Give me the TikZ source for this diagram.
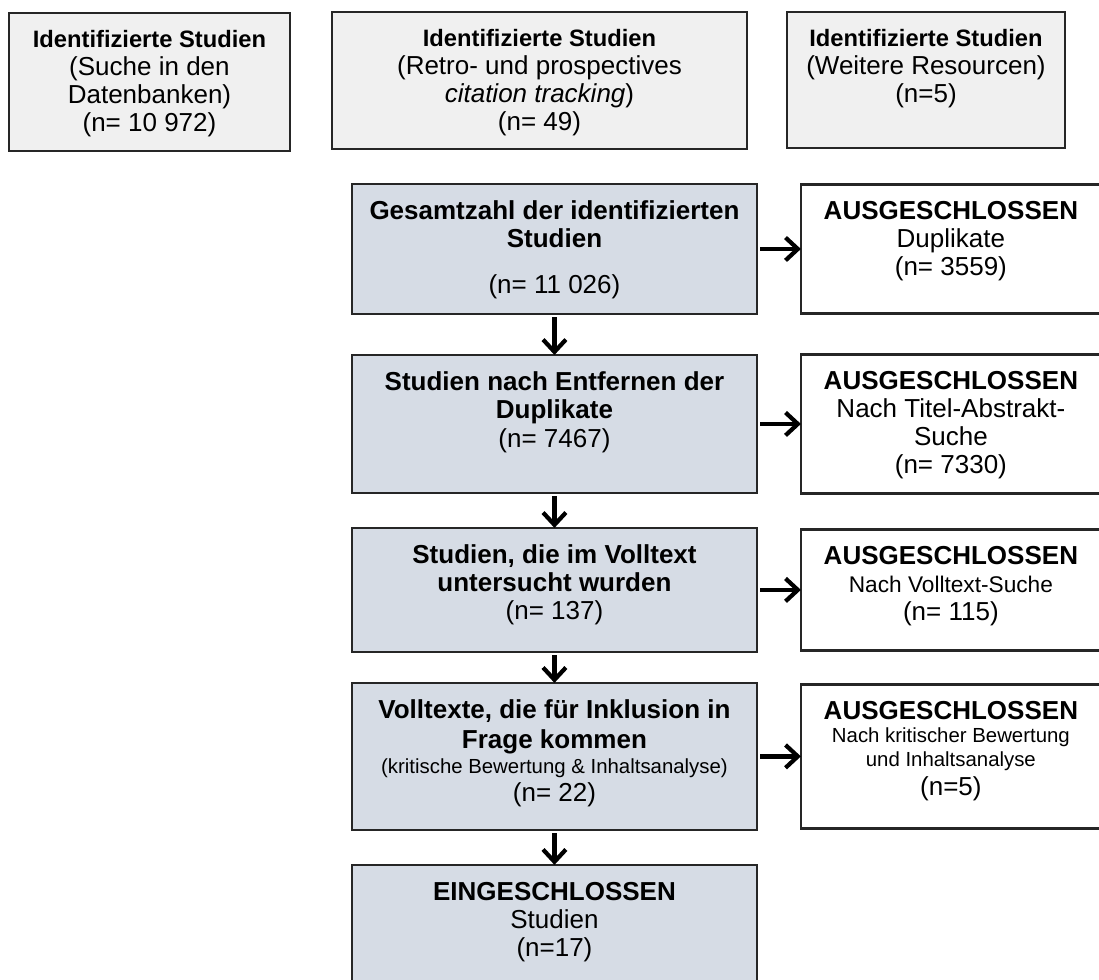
\documentclass[tikz,border=0pt]{standalone}
\usepackage{fontspec}
\setmainfont{Liberation Sans}
\usepackage{tikz}
\usetikzlibrary{positioning, arrows.meta}

\definecolor{topgray}{HTML}{F0F0F0}
\definecolor{mainblue}{HTML}{D6DCE5}

% text set at the top of a box of fixed size: {width cm}{height cm}{text}
\newcommand{\boxtext}[3]{\parbox[c][#2cm][t]{#1cm}{\centering\vspace*{0.34cm}#3\par}}
\newcommand{\tophead}[1]{{\fontsize{13.5}{16}\selectfont\bfseries #1}}
\newcommand{\smalltext}[1]{{\fontsize{11.6}{13}\selectfont #1}}

\begin{document}
\begin{tikzpicture}[x=0.02cm,y=-0.02cm,
  box/.style={draw=black!85,line width=1.4pt,inner sep=0pt,outer sep=0pt,font=\fontsize{14.8}{16}\selectfont},
  topbox/.style={box,fill=topgray,anchor=north west},
  mainbox/.style={box,fill=mainblue},
  outbox/.style={box,fill=white},
  flow/.style={-{Straight Barb[length=7pt,width=13pt]},line width=2.4pt,shorten <=2pt}]
\path[use as bounding box,clip] (0,0) rectangle (1099,980);

% sources
\node[topbox] (db) at (9,13) {\boxtext{5.62}{2.76}{\tophead{Identifizierte Studien}\\(Suche in den\\Datenbanken)\\(n= 10 972)}};
\node[topbox] (cite) at (332,12) {\boxtext{8.3}{2.74}{\tophead{Identifizierte Studien}\\(Retro- und prospectives\\\textit{citation tracking})\\(n= 49)}};
\node[topbox] (other) at (787,12) {\boxtext{5.56}{2.72}{\tophead{Identifizierte Studien}\\(Weitere Resourcen)\\(n=5)}\hspace{0.8cm}};

% main column
\node[mainbox,anchor=north west] (total) at (352,184) {\boxtext{8.1}{2.6}{\textbf{Gesamtzahl der identifizierten\\Studien}\\[10pt](n= 11 026)}};
\node[mainbox,below=0.82cm of total] (dedup) {\boxtext{8.1}{2.76}{\textbf{Studien nach Entfernen der\\Duplikate}\\(n= 7467)}};
\node[mainbox,below=0.7cm of dedup] (fulltext) {\boxtext{8.1}{2.48}{\textbf{Studien, die im Volltext\\untersucht wurden}\\(n= 137)}};
\node[mainbox,below=0.62cm of fulltext] (eligible) {\boxtext{8.1}{2.94}{\textbf{Volltexte, die für Inklusion in\\[1pt]Frage kommen}\\[-2pt]\smalltext{(kritische Bewertung \& Inhaltsanalyse)}\\(n= 22)}};
\node[mainbox,below=0.7cm of eligible] (included) {\boxtext{8.1}{2.54}{\textbf{EINGESCHLOSSEN}\\Studien\\(n=17)}};

% excluded
\node[outbox,right=0.88cm of total] (dup) {\boxtext{6.0}{2.58}{\textbf{AUSGESCHLOSSEN}\\Duplikate\\(n= 3559)}};
\node[outbox,right=0.88cm of dedup] (title) {\boxtext{6.0}{2.78}{\textbf{AUSGESCHLOSSEN}\\Nach Titel-Abstrakt-\\Suche\\(n= 7330)}};
\node[outbox,right=0.88cm of fulltext] (full) {\boxtext{6.0}{2.42}{\textbf{AUSGESCHLOSSEN}\\{\fontsize{12.9}{15}\selectfont Nach Volltext-Suche}\\(n= 115)}};
\node[outbox,right=0.88cm of eligible] (crit) {\boxtext{6.0}{2.88}{\textbf{AUSGESCHLOSSEN}\\\smalltext{Nach kritischer Bewertung\\[-2pt]und Inhaltsanalyse}\\(n=5)}};

\draw[flow] (total) -- (dedup);
\draw[flow] (dedup) -- (fulltext);
\draw[flow] (fulltext) -- (eligible);
\draw[flow] (eligible) -- (included);

\draw[flow] (total.east) -- (total.east -| dup.west);
\draw[flow] (dedup.east) -- (dedup.east -| title.west);
\draw[flow] (fulltext.east) -- (fulltext.east -| full.west);
\draw[flow] (eligible.east) -- (eligible.east -| crit.west);
\end{tikzpicture}
\end{document}
